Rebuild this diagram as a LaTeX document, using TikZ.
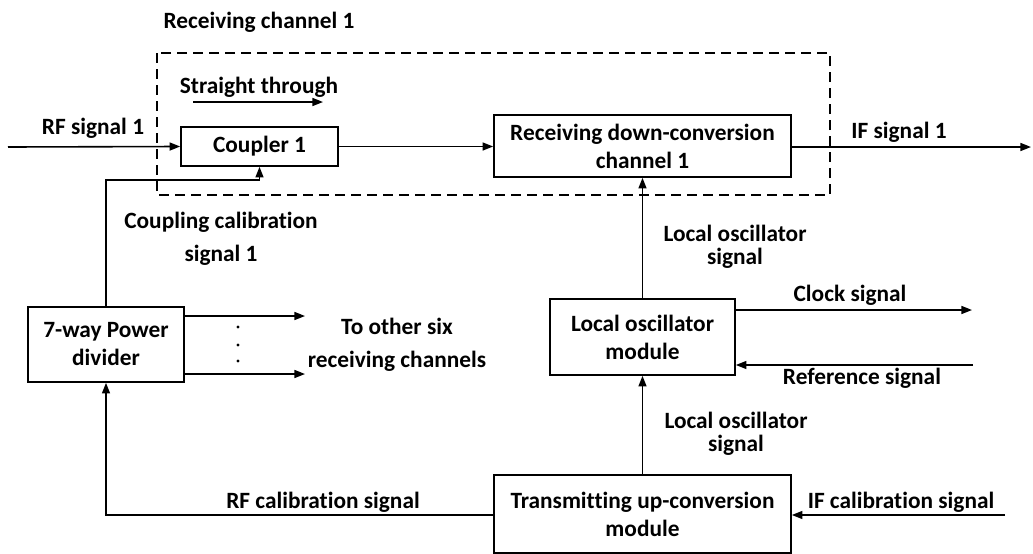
\documentclass[tikz,border=0pt]{standalone}
\usepackage{fontspec}
\setmainfont{Carlito}[Ligatures=NoCommon]
\usepackage{tikz}
\usetikzlibrary{arrows.meta,positioning}

\tikzset{
  blk/.style={draw, line width=1.2pt, inner sep=0pt, align=center,
    font=\bfseries\fontsize{17.5}{21}\selectfont},
  lbl/.style={inner sep=0pt, align=center,
    font=\bfseries\fontsize{17.5}{17.5}\selectfont},
  sig/.style={line width=1.2pt, -{Triangle[length=8pt,width=6pt]}},
  wire/.style={line width=1.2pt}
}

\begin{document}
\begin{tikzpicture}[x=0.75pt, y=-0.75pt]
        \useasboundingbox (0,0) rectangle (1033,554);
        % Receiving channel 1 (dashed frame)
        \draw[wire, dash pattern=on 7.5pt off 4.5pt] (157,53) rectangle (830,195);
        \node[lbl] (title) at (259,22) {Receiving channel 1};
        % Blocks
        \node[blk, minimum width=117.75pt, minimum height=29.25pt]
          (coupler) at (259.5,146.5) {Coupler 1};
        \node[blk, minimum width=222.75pt, minimum height=46.5pt]
          (downconv) at (642.5,146) {Receiving down-conversion\\channel 1};
        \node[blk, minimum width=117pt, minimum height=56.25pt]
          (divider) at (106,344.5) {7-way Power\\divider};
        \node[blk, minimum width=138.75pt, minimum height=57pt]
          (lomod) at (642.5,337) {Local oscillator\\module};
        \node[blk, minimum width=222.75pt, minimum height=58.5pt]
          (txmod) at (642.5,514) {Transmitting up-conversion\\module};
        % Free ends
        \coordinate (rfin) at (8,147);
        \coordinate (ifout) at (1031,147);
        \coordinate (st1) at (193,102);
        \coordinate (st2) at (323,102);
        \coordinate (cpl) at (259.5,180);
        \coordinate (do1) at (305,316);
        \coordinate (do2) at (305,374);
        \coordinate (clk) at (972,310);
        \coordinate (ref) at (973,365);
        \coordinate (rfc) at (106,515);
        \coordinate (ifc) at (1005,515);
        % Signal paths
        \draw[sig] (rfin) -- (coupler.west);
        \draw[sig] (coupler.east) -- (coupler.east -| downconv.west);
        \draw[sig] (downconv.east |- ifout) -- (ifout);
        \draw[sig] (st1) -- (st2);
        \draw[sig] (divider.north) |- (cpl) -- (coupler.south);
        \draw[sig] (do1 -| divider.east) -- (do1);
        \draw[sig] (do2 -| divider.east) -- (do2);
        \fill (238,327) circle (1.2pt) (238,345) circle (1.2pt) (238,361) circle (1.2pt);
        \draw[sig] (lomod.north) -- (downconv.south);
        \draw[sig] (txmod.north) -- (lomod.south);
        \draw[sig] (clk -| lomod.east) -- (clk);
        \draw[sig] (ref) -- (ref -| lomod.east);
        \draw[sig] (rfc -| txmod.west) -- (rfc) -- (divider.south);
        \draw[sig] (ifc) -- (ifc -| txmod.east);
        % Labels
        \node[lbl] (stlbl) at (259,87) {Straight through};
        \node[lbl] (rflbl) at (93,128) {RF signal 1};
        \node[lbl] (iflbl) at (899,132) {IF signal 1};
        \node[lbl] (cpllbl) at (221,239) {Coupling calibration\\[7.25pt]signal 1};
        \node[lbl] (lolbl1) at (735,247) {Local oscillator\\signal};
        \node[lbl] (lolbl2) at (736,434) {Local oscillator\\signal};
        \node[lbl] (othlbl) at (397,345) {To other six\\[7.25pt]receiving channels};
        \node[lbl] (clklbl) at (850,295) {Clock signal};
        \node[lbl] (reflbl) at (862,378) {Reference signal};
        \node[lbl] (rfclbl) at (323,502) {RF calibration signal};
        \node[lbl] (ifclbl) at (901,502) {IF calibration signal};
      \end{tikzpicture}
\end{document}
